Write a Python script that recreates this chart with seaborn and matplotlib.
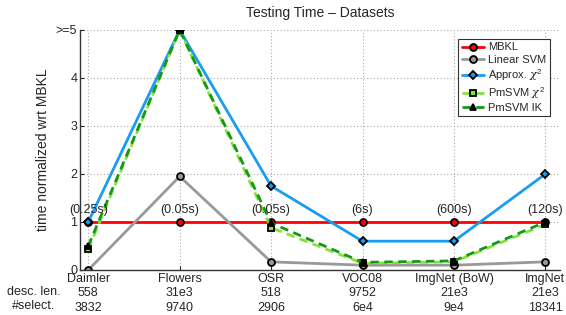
import matplotlib
matplotlib.use("Agg")
import matplotlib.pyplot as plt
import seaborn as sns
import pandas as pd

datasets = ["Daimler", "Flowers", "OSR", "VOC08", "ImgNet (BoW)", "ImgNet"]
desc_len = ["558", "31e3", "518", "9752", "21e3", "21e3"]
n_select = ["3832", "9740", "2906", "6e4", "9e4", "18341"]
times = ["(0.25s)", "(0.05s)", "(0.05s)", "(6s)", "(600s)", "(120s)"]

mbkl = [1.0, 1.0, 1.0, 1.0, 1.0, 1.0]
linear_svm = [0.0, 1.95, 0.17, 0.10, 0.10, 0.17]
approx_chi2 = [1.0, 5.0, 1.75, 0.60, 0.60, 2.0]
pmsvm_chi2 = [0.43, 5.0, 0.88, 0.14, 0.17, 0.95]
pmsvm_ik = [0.50, 5.0, 0.98, 0.16, 0.19, 1.0]

yticks = [0, 1, 2, 3, 4, 5]
yticklabels = ["0", "1", "2", "3", "4", ">=5"]

sns.set_style("white")
plt.rcParams["font.family"] = ["Liberation Sans", "DejaVu Sans"]
plt.rcParams["mathtext.fontset"] = "custom"
plt.rcParams["mathtext.rm"] = "Liberation Sans"
plt.rcParams["mathtext.it"] = "DejaVu Serif:italic"

fig = plt.figure(figsize=(5.66, 3.15), dpi=100)
ax = fig.add_axes([80 / 566, 1 - 270 / 315, 480 / 566, 240 / 315])

x = list(range(1, len(datasets) + 1))
series = [
    ("MBKL", mbkl, "#ff0000", "-", "o", "#ff0000", 5),
    ("Linear SVM", linear_svm, "#999999", "-", "o", "#999999", 5),
    (r"Approx. $\chi^2$", approx_chi2, "#1a9cf0", "-", "D", "#1a9cf0", 4),
    (r"PmSVM $\chi^2$", pmsvm_chi2, "#88e040", (0, (3, 2)), "s", "#88e040", 4),
    ("PmSVM IK", pmsvm_ik, "#129a12", (0, (3, 2)), "^", "#000000", 5),
]
for name, vals, col, ls, mk, mfc, ms in series:
    df = pd.DataFrame({"x": x, "y": vals})
    sns.lineplot(data=df, x="x", y="y", ax=ax, color=col, linewidth=2,
                 linestyle=ls, marker=mk, markersize=ms, markerfacecolor=mfc,
                 markeredgecolor="black", markeredgewidth=1.3, label=name)

for xi, t in zip(x, times):
    ax.text(xi, 1.24, t, ha="center", va="center", fontsize=9)

ax.set_xlim(0.91, 6.16)
ax.set_ylim(0, 5)
ax.set_yticks(yticks)
ax.set_yticklabels(yticklabels, fontsize=9)
ax.set_xticks(x)
ax.set_xticklabels([f"{d}\n{l}\n{s}" for d, l, s in zip(datasets, desc_len, n_select)],
                   fontsize=9, linespacing=1.3)
ax.tick_params(axis="x", length=3, pad=2, direction="in", bottom=True)
ax.tick_params(axis="y", length=3, pad=2, direction="in", left=True)
ax.set_xlabel("")
ax.set_ylabel("time normalized wrt MBKL", fontsize=10)
ax.set_title("Testing Time \u2013 Datasets", fontsize=10, pad=9)
ax.grid(True, linestyle=(0, (1, 2)), color="#aaaaaa", linewidth=0.8)
for sp in ["top", "right"]:
    ax.spines[sp].set_visible(False)
for sp in ["left", "bottom"]:
    ax.spines[sp].set_color("#333333")
    ax.spines[sp].set_linewidth(1.0)

fig.text(34 / 566, 1 - 292 / 315, "desc. len.", ha="center", va="center", fontsize=9)
fig.text(34 / 566, 1 - 306 / 315, "#select.", ha="center", va="center", fontsize=9)

leg = ax.legend(loc="upper right", bbox_to_anchor=(0.99, 0.985), fontsize=8,
                frameon=True, fancybox=False, edgecolor="black",
                handlelength=2.0, borderpad=0.3, labelspacing=0.2, handletextpad=0.4)
leg.get_frame().set_linewidth(0.8)

fig.savefig("out.png", dpi=100)
